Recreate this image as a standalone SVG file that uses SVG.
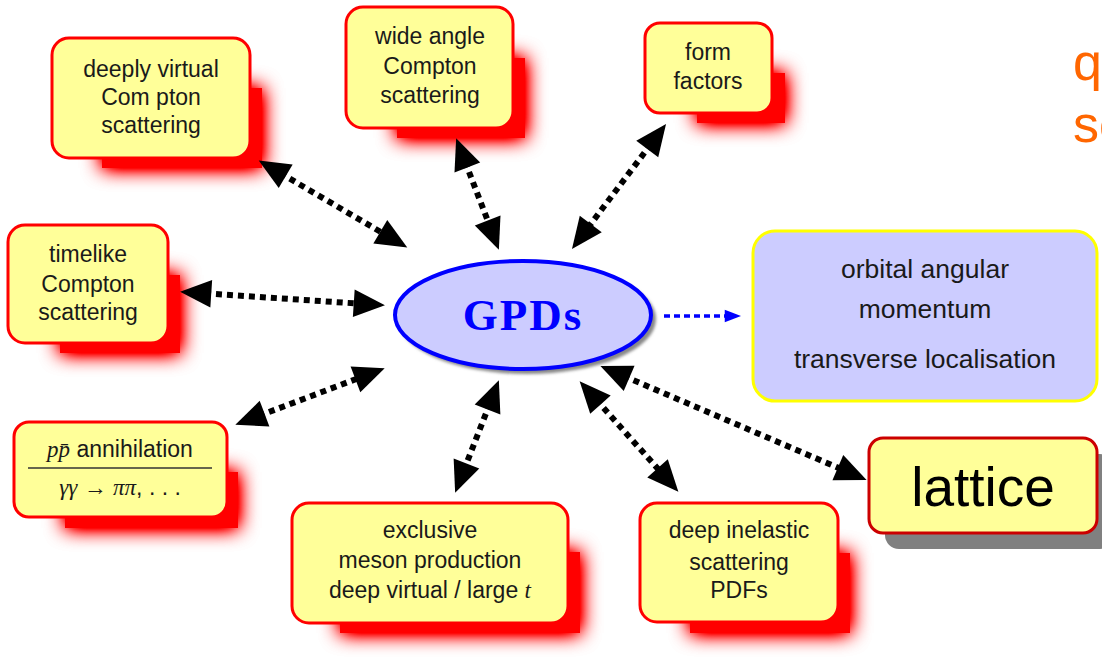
<svg xmlns="http://www.w3.org/2000/svg" width="1102" height="668" viewBox="0 0 1102 668">
<style>
.box{fill:#ffff99;stroke:#ff0000;stroke-width:3}
.sh{fill:#ff0000;filter:url(#glow)}
.t{font-family:"Liberation Sans",Arial,sans-serif;font-size:23px;fill:#1a1a1a;text-anchor:middle}
.ot{font-family:"Liberation Sans",Arial,sans-serif;font-size:26.5px;fill:#1a1a1a;text-anchor:middle}
.m{font-family:"Liberation Serif","Times New Roman",serif;font-style:italic}
.arr{fill:none;stroke:#000;stroke-width:6;stroke-dasharray:6 5;marker-start:url(#ah);marker-end:url(#ah)}
</style>
<defs>
<filter id="glow" x="-50%" y="-60%" width="200%" height="220%">
<feGaussianBlur in="SourceGraphic" stdDeviation="10" result="b"/>
<feComponentTransfer in="b" result="b2"><feFuncA type="linear" slope="2"/></feComponentTransfer>
<feMerge><feMergeNode in="b2"/><feMergeNode in="SourceGraphic"/></feMerge>
</filter>
<filter id="soft" x="-10%" y="-10%" width="120%" height="120%">
<feGaussianBlur stdDeviation="1.5"/>
</filter>
<marker id="ah" markerUnits="userSpaceOnUse" markerWidth="40" markerHeight="40" viewBox="-6 -14 32 28" refX="0" refY="0" orient="auto-start-reverse">
<path d="M-5,-11 L20,0 L-5,11 z" fill="#000"/>
</marker>
<marker id="bh" markerUnits="userSpaceOnUse" markerWidth="20" markerHeight="20" viewBox="-2 -7 16 14" refX="0" refY="0" orient="auto">
<path d="M-1,-5 L12,0 L-1,5 z" fill="#0000ff"/>
</marker>
</defs>

<rect x="0" y="0" width="1102" height="668" fill="#ffffff"/>

<text x="1073" y="80" font-family="'Liberation Sans',Arial,sans-serif" font-size="52" fill="#ff6600">q</text>
<text x="1073" y="142" font-family="'Liberation Sans',Arial,sans-serif" font-size="52" fill="#ff6600">sc</text>

<g id="dvcs">
<rect class="sh" x="102" y="88" width="160" height="80"/>
<rect class="box" x="52" y="38" width="198" height="120" rx="17"/>
<text class="t" x="151" y="77">deeply virtual</text>
<text class="t" x="151" y="105">Com pton</text>
<text class="t" x="151" y="133">scattering</text>
</g>

<g id="wacs">
<rect class="sh" x="397" y="58" width="128" height="80"/>
<rect class="box" x="346" y="7" width="167" height="121" rx="17"/>
<text class="t" x="430" y="44">wide angle</text>
<text class="t" x="430" y="74">Compton</text>
<text class="t" x="430" y="103">scattering</text>
</g>

<g id="ff">
<rect class="sh" x="697" y="73" width="88" height="50"/>
<rect class="box" x="645" y="23" width="127" height="90" rx="15"/>
<text class="t" x="708" y="60">form</text>
<text class="t" x="708" y="89">factors</text>
</g>

<g id="tcs">
<rect class="sh" x="60" y="275" width="120" height="78"/>
<rect class="box" x="8" y="225" width="160" height="118" rx="17"/>
<text class="t" x="88" y="262">timelike</text>
<text class="t" x="88" y="292">Compton</text>
<text class="t" x="88" y="320">scattering</text>
</g>

<g id="ppbar">
<rect class="sh" x="65" y="472" width="173" height="56"/>
<rect class="box" x="14" y="422" width="213" height="95" rx="15"/>
<text class="t" x="120" y="457"><tspan class="m">pp̄</tspan> annihilation</text>
<line x1="28" y1="468" x2="212" y2="468" stroke="#333" stroke-width="1.5"/>
<text class="t" x="120" y="495"><tspan class="m">γγ</tspan> → <tspan class="m">ππ</tspan>, . . .</text>
</g>

<g id="excl">
<rect class="sh" x="340" y="552" width="240" height="81"/>
<rect class="box" x="292" y="503" width="276" height="120" rx="17"/>
<text class="t" x="430" y="538">exclusive</text>
<text class="t" x="430" y="568">meson production</text>
<text class="t" x="430" y="598">deep virtual / large <tspan class="m">t</tspan></text>
</g>

<g id="dis">
<rect class="sh" x="690" y="553" width="160" height="80"/>
<rect class="box" x="640" y="503" width="198" height="119" rx="17"/>
<text class="t" x="739" y="538">deep inelastic</text>
<text class="t" x="739" y="570">scattering</text>
<text class="t" x="739" y="598">PDFs</text>
</g>

<g id="gpds">
<ellipse cx="527" cy="319" rx="129" ry="55" fill="#888" filter="url(#soft)"/>
<ellipse cx="523" cy="315" rx="128" ry="54" fill="#ccccff" stroke="#0000ff" stroke-width="4"/>
<text x="523" y="330" font-family="'Liberation Serif','Times New Roman',serif" font-size="45" font-weight="bold" letter-spacing="2" fill="#0000ff" text-anchor="middle">GPDs</text>
</g>

<g id="orbital">
<rect x="753" y="231" width="344" height="170" rx="22" fill="#ccccff" stroke="#ffff00" stroke-width="3"/>
<text class="ot" x="925" y="278">orbital angular</text>
<text class="ot" x="925" y="318">momentum</text>
<text class="ot" x="925" y="368">transverse localisation</text>
</g>

<g id="lattice">
<rect x="885" y="454" width="229" height="95" rx="14" fill="#808080"/>
<rect x="869" y="438" width="228" height="95" rx="14" fill="#ffff99" stroke="#cc0000" stroke-width="3"/>
<text x="983" y="506" font-family="'Liberation Sans',Arial,sans-serif" font-size="55" fill="#000" text-anchor="middle">lattice</text>
</g>

<g id="connectors">
<path class="arr" d="M280.3,173.1 L385.7,234.9"/>
<path class="arr" d="M465.1,161.7 L489.9,226.3"/>
<path class="arr" d="M651,144 L587,229"/>
<path class="arr" d="M205,293.3 L360,303.7"/>
<path class="arr" d="M258.7,415.9 L361.3,377.1"/>
<path class="arr" d="M489.8,403.6 L464.2,469.4"/>
<path class="arr" d="M596.3,399.9 L661.7,473.1"/>
<path class="arr" d="M623.4,375.9 L843.6,470.1"/>
<path d="M664,316 L726,316" fill="none" stroke="#0000ff" stroke-width="3.5" stroke-dasharray="6 4" marker-end="url(#bh)"/>
</g>
</svg>
